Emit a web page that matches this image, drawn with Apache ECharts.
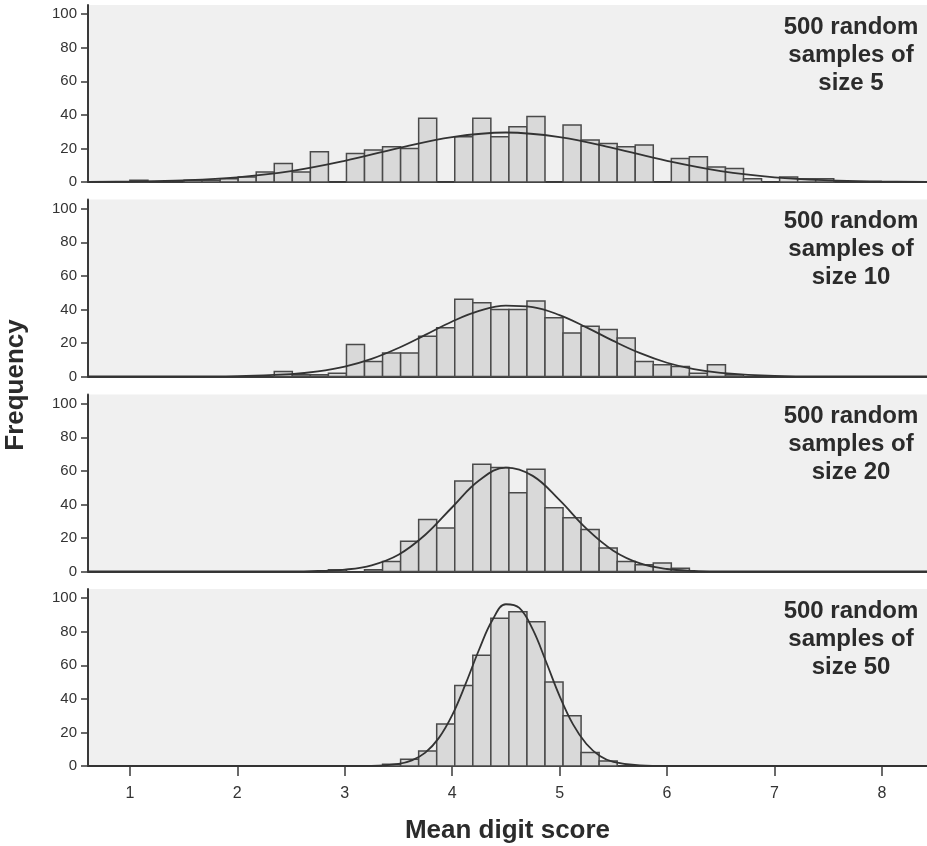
<!DOCTYPE html>
<html lang="en">
<head>
<meta charset="UTF-8">
<title>Mean digit score</title>
<style>
    body {
        margin: 0;
        background: #fff;
    }

    #chart {
        width: 927px;
        height: 846px;
    }
</style>
</head>
<body>
<div id="chart"></div>
<script src="https://cdn.jsdelivr.net/npm/echarts@6.0.0/dist/echarts.min.js"></script>
<script>
    // bins are the same in every panel: edges at binStart + k * binWidth
    var binStart = 1.0;
    var binWidth = 0.168;

    var xTicks = [1, 2, 3, 4, 5, 6, 7, 8];
    var freqTicks = [0, 20, 40, 60, 80, 100];

    var panelLabels = [
        '500 random\nsamples of\nsize 5',
        '500 random\nsamples of\nsize 10',
        '500 random\nsamples of\nsize 20',
        '500 random\nsamples of\nsize 50'
    ];

    // frequencies per bin (k = 0..39)
    var size5Counts = [1, 0, 0, 1, 1, 2, 3, 6, 11, 6, 18, 0, 17, 19, 21, 20, 38, 0, 27, 38,
        27, 33, 39, 0, 34, 25, 23, 21, 22, 0, 14, 15, 9, 8, 2, 0, 3, 2, 2, 0];
    var size10Counts = [0, 0, 0, 0, 0, 0, 0, 0, 3, 1, 1, 2, 19, 9, 14, 14, 24, 29, 46, 44,
        40, 40, 45, 35, 26, 30, 28, 23, 9, 7, 6, 2, 7, 1, 0, 0, 0, 0, 0, 0];
    var size20Counts = [0, 0, 0, 0, 0, 0, 0, 0, 0, 0, 0, 1, 0, 1, 6, 18, 31, 26, 54, 64,
        62, 47, 61, 38, 32, 25, 14, 6, 4, 5, 2, 0, 0, 0, 0, 0, 0, 0, 0, 0];
    var size50Counts = [0, 0, 0, 0, 0, 0, 0, 0, 0, 0, 0, 0, 0, 0, 1, 4, 9, 25, 48, 66,
        88, 92, 86, 50, 30, 8, 3, 0, 0, 0, 0, 0, 0, 0, 0, 0, 0, 0, 0, 0];

    // normal curves
    var size5Curve = [[0.61, 0.1], [1, 0.3], [1.5, 1], [2, 2.8], [2.5, 6.5], [3, 12.6], [3.5, 20.2],
        [4, 26.8], [4.5, 29.5], [5, 26.8], [5.5, 20.2], [6, 12.6], [6.5, 6.5], [7, 2.8],
        [7.5, 1], [8, 0.3], [8.42, 0.1]];
    var size10Curve = [[0.61, 0], [1.5, 0], [2, 0.2], [2.5, 1.4], [2.75, 3], [3, 5.9], [3.25, 10.5],
        [3.5, 17], [3.75, 24.8], [4, 32.8], [4.25, 39.1], [4.5, 42.3], [4.75, 41.4], [5, 36.6],
        [5.25, 29.3], [5.5, 21.2], [5.75, 13.9], [6, 8.2], [6.25, 4.4], [6.5, 2.2], [7, 0.4],
        [7.5, 0.05], [8.42, 0]];
    var size20Curve = [[0.61, 0], [2.5, 0], [2.75, 0.3], [3, 1.1], [3.25, 3.7], [3.5, 10],
        [3.75, 21.9], [4, 38.3], [4.25, 54.2], [4.5, 61.9], [4.75, 57], [5, 42.5], [5.25, 25.5],
        [5.5, 12.4], [5.75, 4.8], [6, 1.5], [6.25, 0.4], [6.5, 0.1], [7, 0], [8.42, 0]];
    var size50Curve = [[0.61, 0], [3, 0], [3.25, 0.1], [3.5, 1.3], [3.625, 3.4], [3.75, 8],
        [3.875, 16.6], [4, 30.3], [4.125, 48.9], [4.25, 69.3], [4.375, 87], [4.5, 96.4],
        [4.625, 94.2], [4.75, 81.4], [4.875, 62], [5, 41.7], [5.125, 24.8], [5.25, 13.1],
        [5.375, 6], [5.5, 2.5], [5.75, 0.3], [6, 0], [8.42, 0]];

    var panels = [
        { counts: size5Counts, curve: size5Curve },
        { counts: size10Counts, curve: size10Curve },
        { counts: size20Counts, curve: size20Curve },
        { counts: size50Counts, curve: size50Curve }
    ];

    var gridTops = [5, 199.5, 394.5, 589];
    var fontFam = "'Liberation Sans', Arial, sans-serif";
    var ink = '#3a3a3a';

    function renderBin(params, api) {
        var p0 = api.coord([api.value(0), api.value(2)]);
        var p1 = api.coord([api.value(1), 0]);
        return {
            type: 'rect',
            shape: { x: p0[0], y: p0[1], width: p1[0] - p0[0], height: p1[1] - p0[1] },
            style: { fill: '#d9d9d9', stroke: '#4a4a4a', lineWidth: 1.5 }
        };
    }

    var grids = [], xAxes = [], yAxes = [], series = [], graphics = [];

    panels.forEach(function (p, i) {
        var last = i === panels.length - 1;
        var bins = [];
        p.counts.forEach(function (c, k) {
            if (c > 0) {
                bins.push([binStart + k * binWidth, binStart + (k + 1) * binWidth, c]);
            }
        });

        grids.push({
            left: 88, right: 0, top: gridTops[i], height: 177,
            show: true, backgroundColor: '#f0f0f0', borderWidth: 0
        });
        xAxes.push({
            gridIndex: i,
            type: 'value',
            min: 0.61,
            max: 8.42,
            axisLine: { show: true, onZero: false, lineStyle: { color: ink, width: 2 } },
            axisTick: { show: last, length: 10, customValues: xTicks, lineStyle: { color: ink, width: 1.5 } },
            axisLabel: { show: last, customValues: xTicks, margin: 20, fontSize: 16, color: '#333', fontFamily: fontFam },
            splitLine: { show: false },
            name: last ? 'Mean digit score' : '',
            nameLocation: 'middle',
            nameGap: 52,
            nameTextStyle: { fontSize: 26, fontWeight: 'bold', color: '#2b2b2b', fontFamily: fontFam }
        });
        yAxes.push({
            gridIndex: i,
            type: 'value',
            min: 0,
            max: 105.5,
            axisLine: { show: true, lineStyle: { color: ink, width: 2 } },
            axisTick: { show: true, length: 7, customValues: freqTicks, lineStyle: { color: ink, width: 1.5 } },
            axisLabel: { customValues: freqTicks, margin: 11, fontSize: 15, color: '#333', fontFamily: fontFam },
            splitLine: { show: false }
        });
        series.push({
            type: 'custom',
            xAxisIndex: i,
            yAxisIndex: i,
            renderItem: renderBin,
            encode: { x: [0, 1], y: 2 },
            data: bins,
            z: 2
        });
        series.push({
            type: 'line',
            xAxisIndex: i,
            yAxisIndex: i,
            data: p.curve,
            smooth: 0.4,
            symbol: 'none',
            lineStyle: { color: '#333', width: 1.8 },
            z: 3,
            silent: true
        });
        graphics.push({
            type: 'text',
            x: 851,
            y: gridTops[i] + 8,
            style: {
                text: panelLabels[i],
                font: 'bold 24px ' + fontFam,
                fill: '#2b2b2b',
                textAlign: 'center',
                textVerticalAlign: 'top',
                lineHeight: 28
            }
        });
    });

    graphics.push({
        type: 'text',
        x: 16,
        y: 385,
        rotation: Math.PI / 2,
        style: {
            text: 'Frequency',
            font: 'bold 26px ' + fontFam,
            fill: '#2b2b2b',
            textAlign: 'center',
            textVerticalAlign: 'middle'
        }
    });

    var myChart = echarts.init(document.getElementById('chart'));
    myChart.setOption({
        animation: false,
        backgroundColor: '#fff',
        grid: grids,
        xAxis: xAxes,
        yAxis: yAxes,
        series: series,
        graphic: graphics
    });
</script>
</body>
</html>
